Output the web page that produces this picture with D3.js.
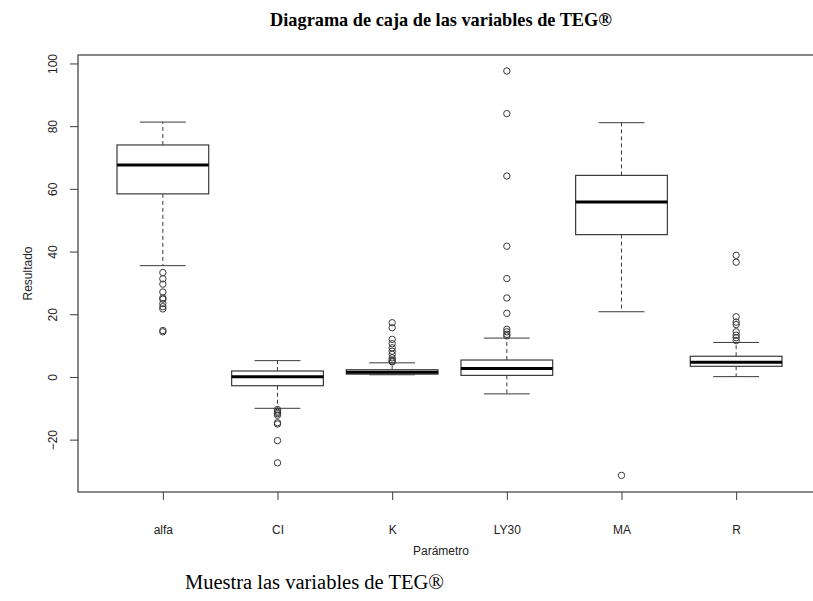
<!DOCTYPE html>
<html>
<head>
<meta charset="utf-8">
<script src="https://cdn.jsdelivr.net/npm/d3@7"></script>
<style>
  html, body { margin: 0; padding: 0; background: #fff; }
  svg { display: block; }
</style>
</head>
<body>
<svg id="chart" width="813" height="601"></svg>
<script>
// ---- data ----
const categories   = ["alfa", "CI", "K", "LY30", "MA", "R"];
const whiskerLow   = [35.5, -10.0, 0.7, -5.4, 20.8, 0.1];
const q1           = [58.4, -2.8, 0.9, 0.5, 45.4, 3.4];
const medians      = [67.6, 0.1, 1.5, 2.7, 55.8, 4.7];
const q3           = [74.0, 1.9, 2.3, 5.4, 64.3, 6.6];
const whiskerHigh  = [81.3, 5.2, 4.5, 12.4, 81.1, 11.0];
const outliers     = [
  [33.3, 31.3, 29.6, 27.1, 25.2, 24.8, 23.4, 22.4, 21.7, 14.8, 14.4],
  [-10.4, -10.9, -11.3, -11.7, -12.2, -14.6, -15.0, -20.3, -27.4],
  [17.3, 15.7, 12.0, 10.6, 9.3, 8.2, 7.2, 6.1, 5.4, 5.0, 4.8],
  [97.6, 84.0, 64.1, 41.7, 31.4, 25.2, 20.3, 15.2, 14.4, 13.6, 13.1],
  [-31.4],
  [38.8, 36.6, 19.2, 17.5, 16.7, 14.4, 13.3, 12.5, 11.6]
];
const yTicks = [-20, 0, 20, 40, 60, 80, 100];
const titleText = "Diagrama de caja de las variables de TEG®";
const xTitle = "Parámetro";
const yTitle = "Resultado";
const captionText = "Muestra las variables de TEG®";

// ---- layout ----
const svg = d3.select("#chart");
const plot = { left: 78, right: 821, top: 55, bottom: 492 };
const x = d3.scaleLinear().domain([0.26, 6.74]).range([plot.left, plot.right]);
const y = d3.scaleLinear().domain([-36.7, 102.7]).range([plot.bottom, plot.top]);
const step = x(2) - x(1);
const boxW = step * 0.8;
const capW = boxW * 0.5;
const sans = "'Liberation Sans', Arial, sans-serif";
const serif = "'Liberation Serif', 'Times New Roman', serif";
const lineCol = "#3a3a3a";

// title
svg.append("text")
  .attr("x", 441).attr("y", 26)
  .attr("text-anchor", "middle")
  .attr("font-family", serif).attr("font-weight", "bold").attr("font-size", 18.3)
  .attr("fill", "#000")
  .text(titleText);

// boxes
const g = svg.append("g");
categories.forEach((c, i) => {
  const cx = x(i + 1);
  // whiskers (dashed)
  g.append("line").attr("x1", cx).attr("x2", cx)
    .attr("y1", y(q3[i])).attr("y2", y(whiskerHigh[i]))
    .attr("stroke", lineCol).attr("stroke-width", 1).attr("stroke-dasharray", "4,3");
  g.append("line").attr("x1", cx).attr("x2", cx)
    .attr("y1", y(q1[i])).attr("y2", y(whiskerLow[i]))
    .attr("stroke", lineCol).attr("stroke-width", 1).attr("stroke-dasharray", "4,3");
  // caps
  [whiskerHigh[i], whiskerLow[i]].forEach(v => {
    g.append("line").attr("x1", cx - capW / 2).attr("x2", cx + capW / 2)
      .attr("y1", y(v)).attr("y2", y(v))
      .attr("stroke", lineCol).attr("stroke-width", 1);
  });
  // box
  g.append("rect")
    .attr("x", cx - boxW / 2).attr("width", boxW)
    .attr("y", y(q3[i])).attr("height", y(q1[i]) - y(q3[i]))
    .attr("fill", "#fff").attr("stroke", lineCol).attr("stroke-width", 1.2);
  // median
  g.append("line").attr("x1", cx - boxW / 2).attr("x2", cx + boxW / 2)
    .attr("y1", y(medians[i])).attr("y2", y(medians[i]))
    .attr("stroke", "#000").attr("stroke-width", 3);
  // outliers
  g.selectAll(null).data(outliers[i]).enter().append("circle")
    .attr("cx", cx).attr("cy", d => y(d)).attr("r", 3.2)
    .attr("fill", "none").attr("stroke", lineCol).attr("stroke-width", 1);
});

// frame
svg.append("rect")
  .attr("x", plot.left).attr("y", plot.top)
  .attr("width", plot.right - plot.left).attr("height", plot.bottom - plot.top)
  .attr("fill", "none").attr("stroke", lineCol).attr("stroke-width", 1.2);

// y axis
const yAxis = d3.axisLeft(y).tickValues(yTicks).tickSize(8).tickSizeOuter(0).tickFormat(d3.format("d"));
const yg = svg.append("g").attr("transform", `translate(${plot.left},0)`).call(yAxis);
yg.select(".domain").remove();
yg.selectAll(".tick line").attr("stroke", lineCol);
yg.selectAll(".tick text")
  .attr("font-family", sans).attr("font-size", 12).attr("fill", "#222")
  .attr("x", 0).attr("y", 0).attr("dy", null)
  .attr("text-anchor", "middle")
  .attr("transform", "translate(-21,0) rotate(-90)");

// x axis
const xAxis = d3.axisBottom(x).tickValues(d3.range(1, categories.length + 1))
  .tickSize(8).tickSizeOuter(0).tickFormat(d => categories[d - 1]);
const xg = svg.append("g").attr("transform", `translate(0,${plot.bottom})`).call(xAxis);
xg.select(".domain").remove();
xg.selectAll(".tick line").attr("stroke", lineCol);
xg.selectAll(".tick text")
  .attr("font-family", sans).attr("font-size", 12).attr("fill", "#222")
  .attr("y", 42).attr("dy", null);

// axis titles
svg.append("text")
  .attr("x", 441).attr("y", 555)
  .attr("text-anchor", "middle")
  .attr("font-family", sans).attr("font-size", 12).attr("fill", "#222")
  .text(xTitle);
svg.append("text")
  .attr("transform", `translate(32,${(plot.top + plot.bottom) / 2}) rotate(-90)`)
  .attr("text-anchor", "middle")
  .attr("font-family", sans).attr("font-size", 12).attr("fill", "#222")
  .text(yTitle);

// caption
svg.append("text")
  .attr("x", 185).attr("y", 589)
  .attr("font-family", serif).attr("font-size", 20.5).attr("fill", "#000")
  .text(captionText);
</script>
</body>
</html>
